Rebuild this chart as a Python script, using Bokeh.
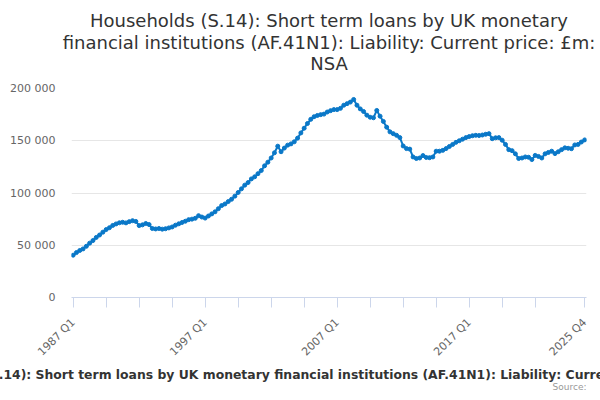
import math
from bokeh.plotting import figure
from bokeh.models import ColumnDataSource, Range1d, FixedTicker, Title
from bokeh.embed import file_html
from bokeh.resources import INLINE

# ---------------- data ----------------
years = list(range(1987, 2026))
quarters = ["Q1", "Q2", "Q3", "Q4"]
periods = [f"{y} {q}" for y in years for q in quarters]

values = [
    40500, 43000, 45000, 46500,      # 1987
    49000, 52000, 54500, 57500,      # 1988
    59800, 62500, 65000, 66800,      # 1989
    69000, 70400, 71500, 72000,      # 1990
    71400, 72600, 73500, 72800,      # 1991
    68800, 69500, 70800, 69800,      # 1992
    66000, 65600, 66000, 65400,      # 1993
    65800, 66600, 67500, 69200,      # 1994
    70500, 71800, 73000, 74500,      # 1995
    75000, 75800, 78300, 77000,      # 1996
    76000, 78000, 80000, 82000,      # 1997
    85000, 88000, 89500, 91800,      # 1998
    94000, 97000, 100500, 104000,    # 1999
    107500, 110000, 113500, 115500,  # 2000
    118500, 121500, 126000, 129500,  # 2001
    133500, 138500, 144800, 139500,  # 2002
    143000, 145800, 147000, 149000,  # 2003
    152500, 157500, 162000, 166500,  # 2004
    170500, 173000, 174200, 175000,  # 2005
    175500, 177500, 178800, 179800,  # 2006
    179800, 181000, 184000, 185500,  # 2007
    187000, 189500, 184000, 180500,  # 2008
    178000, 174500, 172500, 172000,  # 2009
    179000, 173500, 168500, 163000,  # 2010
    158500, 156800, 155200, 153000,  # 2011
    145000, 142500, 142000, 134500,  # 2012
    133000, 133500, 135800, 134000,  # 2013
    133800, 134500, 140000, 140000,  # 2014
    140800, 142500, 144500, 146500,  # 2015
    148500, 150000, 151500, 153000,  # 2016
    154000, 154800, 155200, 155000,  # 2017
    155500, 156200, 156800, 152000,  # 2018
    152800, 153000, 150500, 146500,  # 2019
    141500, 140500, 137500, 133000,  # 2020
    133500, 134500, 134200, 132000,  # 2021
    136000, 135000, 133500, 137500,  # 2022
    138800, 140000, 137700, 139500,  # 2023
    141500, 143200, 142800, 142400,  # 2024
    146000, 146500, 148800, 150800,  # 2025
]

labelled_periods = ["1987 Q1", "1997 Q1", "2007 Q1", "2017 Q1", "2025 Q4"]
y_ticks = [0, 50000, 100000, 150000, 200000]
y_tick_labels = ["0", "50 000", "100 000", "150 000", "200 000"]

title_lines = [
    "Households (S.14): Short term loans by UK monetary",
    "financial institutions (AF.41N1): Liability: Current price: £m:",
    "NSA",
]
caption = ("Households (S.14): Short term loans by UK monetary financial "
           "institutions (AF.41N1): Liability: Current price: £m: NSA")
credit = "Source:"

# ---------------- chart ----------------
BLUE = "#0a78c8"
FONT = "DejaVu Sans"

src = ColumnDataSource(dict(x=list(range(len(periods))), y=values, period=periods))

p = figure(width=600, height=400, output_backend="svg", toolbar_location=None,
           x_range=Range1d(-0.5, len(periods) - 1 + 0.55), y_range=Range1d(0, 200000),
           min_border_left=71, min_border_right=14, min_border_top=88, min_border_bottom=103)
p.outline_line_color = None
p.background_fill_color = "white"
p.border_fill_color = "white"

# title: figure's own title is the top line; panels added later stack outward
# from the frame, so add: spacer, "NSA", then the second line.
p.title.text = title_lines[0]
p.title.align = "center"
p.title.text_font = FONT
p.title.text_font_size = "18px"
p.title.text_font_style = "normal"
p.title.text_color = "#333333"
p.title.standoff = 0

p.add_layout(Title(text=" ", text_font_size="1px", standoff=13), "above")
for k in (2, 1):
    p.add_layout(Title(text=title_lines[k], align="center", text_font=FONT,
                       text_font_size="18px", text_font_style="normal",
                       text_color="#333333", standoff=-2.5), "above")

x_tick_pos = list(range(0, len(periods) - 10, 10)) + [len(periods) - 1]
xa = p.xaxis[0]
xa.ticker = FixedTicker(ticks=x_tick_pos, minor_ticks=[])
xa.major_label_overrides = {i: (periods[i] if periods[i] in labelled_periods else "")
                            for i in x_tick_pos}
xa.major_label_orientation = math.pi / 4
xa.major_tick_out = 10
xa.major_tick_in = 0
xa.minor_tick_out = 0
xa.minor_tick_in = 0
xa.axis_line_color = "#ccd6eb"
xa.major_tick_line_color = "#ccd6eb"
xa.major_label_text_font = FONT
xa.major_label_text_font_size = "11px"
xa.major_label_text_color = "#666666"
xa.major_label_standoff = 13

ya = p.yaxis[0]
ya.ticker = FixedTicker(ticks=y_ticks, minor_ticks=[])
ya.major_label_overrides = dict(zip(y_ticks, y_tick_labels))
ya.axis_line_color = None
ya.major_tick_line_color = None
ya.minor_tick_line_color = None
ya.major_tick_out = 0
ya.major_tick_in = 0
ya.minor_tick_out = 0
ya.minor_tick_in = 0
ya.major_label_text_font = FONT
ya.major_label_text_font_size = "11px"
ya.major_label_text_color = "#666666"
ya.major_label_standoff = 16

p.xgrid.visible = False
p.ygrid.ticker = FixedTicker(ticks=y_ticks, minor_ticks=[])
p.ygrid.grid_line_color = "#e6e6e6"
p.ygrid.grid_line_width = 1

p.line("x", "y", source=src, line_width=2, line_color=BLUE)
p.scatter("x", "y", source=src, size=4, fill_color=BLUE, line_color=BLUE)

# caption and credit below the axis
p.add_layout(Title(text=caption, align="left", offset=-173, text_font=FONT,
                   text_font_size="12.4px", text_font_style="bold", text_color="#333333",
                   standoff=-4), "below")
p.add_layout(Title(text=credit, align="right", offset=0, text_font=FONT,
                   text_font_size="9px", text_font_style="normal", text_color="#999999",
                   standoff=0), "below")

open("out.html", "w").write(file_html(p, INLINE))
